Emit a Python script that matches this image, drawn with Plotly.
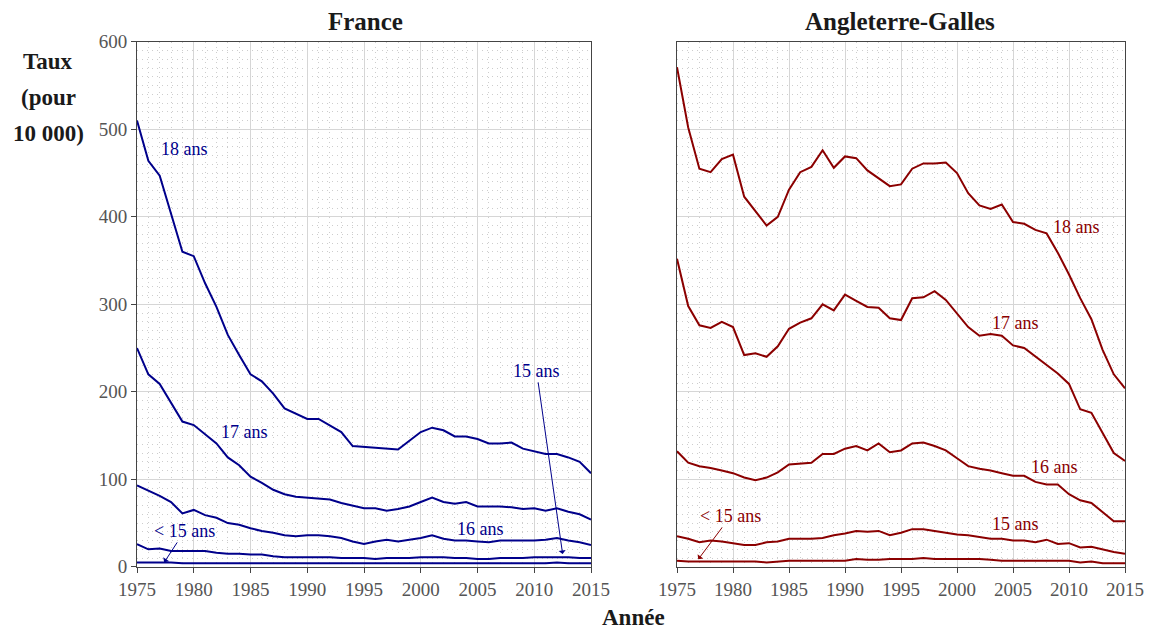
import plotly.graph_objects as go

years = list(range(1975, 2016))

# France (taux pour 10 000)
fr_18 = [510, 464, 447, 402, 360, 355, 324, 297, 265, 242, 220, 212, 198, 181, 175, 169, 169, 161, 154, 138,
         137, 136, 135, 134, 144, 154, 159, 156, 149, 149, 146, 141, 141, 142, 135, 132, 129, 129, 125, 120, 107]
fr_17 = [250, 220, 209, 187, 166, 162, 151, 141, 125, 116, 103, 96, 88, 83, 80, 79, 78, 77, 73, 70,
         67, 67, 64, 66, 69, 74, 79, 74, 72, 74, 69, 69, 69, 68, 66, 67, 64, 67, 63, 60, 54]
fr_16 = [93, 87, 81, 74, 61, 65, 59, 56, 50, 48, 44, 41, 39, 36, 35, 36, 36, 35, 33, 29,
         26, 29, 31, 29, 31, 33, 36, 32, 30, 30, 29, 28, 30, 30, 30, 30, 31, 33, 30, 28, 25]
fr_15 = [26, 20, 21, 18, 18, 18, 18, 16, 15, 15, 14, 14, 12, 11, 11, 11, 11, 11, 10, 10,
         10, 9, 10, 10, 10, 11, 11, 11, 10, 10, 9, 9, 10, 10, 10, 11, 11, 11, 11, 10, 10]
fr_lt15 = [5, 5, 5, 5, 4, 4, 4, 4, 4, 4, 4, 4, 4, 4, 4, 4, 4, 4, 4, 4,
           4, 4, 4, 4, 4, 4, 4, 4, 4, 4, 4, 4, 4, 4, 4, 4, 4, 5, 4, 4, 4]

# Angleterre-Galles
ew_18 = [571, 502, 455, 451, 466, 471, 423, 406, 390, 400, 431, 451, 457, 476, 456, 469, 467, 453, 444, 435,
         437, 455, 461, 461, 462, 450, 427, 413, 409, 414, 394, 392, 385, 381, 359, 334, 307, 283, 248, 220, 204]
ew_17 = [352, 298, 276, 273, 280, 274, 242, 244, 240, 252, 272, 279, 284, 300, 293, 311, 304, 297, 296, 284,
         282, 307, 308, 315, 305, 290, 274, 264, 266, 264, 253, 250, 240, 230, 221, 209, 180, 176, 153, 130, 121]
ew_16 = [132, 119, 115, 113, 110, 107, 102, 99, 102, 108, 117, 118, 119, 129, 129, 135, 138, 133, 141, 131,
         133, 141, 142, 138, 133, 124, 115, 112, 110, 107, 104, 104, 97, 94, 94, 83, 76, 73, 63, 52, 52]
ew_15 = [35, 32, 28, 30, 29, 27, 25, 25, 28, 29, 32, 32, 32, 33, 36, 38, 41, 40, 41, 36,
         39, 43, 43, 41, 39, 37, 36, 34, 32, 32, 30, 30, 28, 31, 26, 27, 22, 23, 20, 17, 15]
ew_lt15 = [7, 6, 6, 6, 6, 6, 6, 6, 5, 6, 7, 7, 7, 7, 7, 7, 9, 8, 8, 9,
           9, 9, 10, 9, 9, 9, 9, 9, 8, 7, 7, 7, 7, 7, 7, 7, 5, 6, 4, 4, 4]

x_ticks = [1975, 1980, 1985, 1990, 1995, 2000, 2005, 2010, 2015]
y_ticks = [0, 100, 200, 300, 400, 500, 600]

BLUE = "#00008B"
RED = "#8B0000"
FONT = "Liberation Serif"
W, H = 1153, 628
OFF = 8  # page body margin


def px(xp):
    return (xp - OFF) / W


def py(yp):
    return 1 - (yp - OFF) / H


fig = go.Figure()
for s in [fr_18, fr_17, fr_16, fr_15, fr_lt15]:
    fig.add_trace(go.Scatter(x=years, y=s, mode="lines", line=dict(color=BLUE, width=2),
                             xaxis="x", yaxis="y", showlegend=False, hoverinfo="skip"))
for s in [ew_18, ew_17, ew_16, ew_15, ew_lt15]:
    fig.add_trace(go.Scatter(x=years, y=s, mode="lines", line=dict(color=RED, width=2),
                             xaxis="x2", yaxis="y2", showlegend=False, hoverinfo="skip"))

MINOR = dict(showgrid=True, gridcolor="#cdcdcd", griddash="1px,4px", gridwidth=1)


def xax(domain, anchor):
    return dict(domain=domain, anchor=anchor, range=[1975, 2015], tickvals=x_ticks,
                showgrid=True, gridcolor="#d6d6d6", gridwidth=1,
                minor=dict(dtick=1, tick0=1975, **MINOR),
                showline=True, linecolor="#444", linewidth=1, mirror=True,
                ticks="outside", ticklen=5, tickcolor="#444",
                tickfont=dict(family=FONT, size=19, color="#555"), zeroline=False, automargin=False)


def yax(domain, anchor, labels):
    return dict(domain=domain, anchor=anchor, range=[0, 600], tickvals=y_ticks,
                showticklabels=labels,
                showgrid=True, gridcolor="#d6d6d6", gridwidth=1,
                minor=dict(dtick=10, tick0=0, **MINOR),
                showline=True, linecolor="#444", linewidth=1, mirror=True,
                ticks="outside" if labels else "", ticklen=5, tickcolor="#444",
                tickfont=dict(family=FONT, size=19, color="#555"), zeroline=False, automargin=False)


ydom = [py(566.8), py(41.8)]
fig.update_layout(
    template="none",
    width=W, height=H,
    margin=dict(l=0, r=0, t=0, b=0),
    paper_bgcolor="white", plot_bgcolor="white",
    font=dict(family=FONT),
    xaxis=xax([px(137), px(591)], "y"),
    yaxis=yax(ydom, "x", True),
    xaxis2=xax([px(677), px(1125)], "y2"),
    yaxis2=yax(ydom, "x2", False),
)

ann = []


def ptext(text, xp, yp, size):
    return dict(text=text, x=px(xp), y=py(yp), xref="paper", yref="paper", showarrow=False,
                font=dict(size=size, color="#1a1a1a", family=FONT), xanchor="center", yanchor="middle")


ann += [
    ptext("<b>France</b>", 365, 22, 25),
    ptext("<b>Angleterre-Galles</b>", 900, 22, 25),
    ptext("<b>Année</b>", 633, 617, 23),
    ptext("<b>Taux</b>", 48, 62, 23),
    ptext("<b>(pour</b>", 48, 98, 23),
    ptext("<b>10 000)</b>", 48, 133, 23),
]


def lab(text, x, y, xr, yr, color):
    return dict(text=text, x=x, y=y, xref=xr, yref=yr, showarrow=False,
                font=dict(size=18, color=color, family=FONT), xanchor="center", yanchor="middle")


ann += [
    lab("18 ans", 1979.2, 478, "x", "y", BLUE),
    lab("17 ans", 1984.5, 154, "x", "y", BLUE),
    lab("16 ans", 2005.3, 43, "x", "y", BLUE),
    lab("18 ans", 2010.7, 388, "x2", "y2", RED),
    lab("17 ans", 2005.2, 279, "x2", "y2", RED),
    lab("16 ans", 2008.7, 114, "x2", "y2", RED),
    lab("15 ans", 2005.2, 49, "x2", "y2", RED),
]


def arr(text, tx, ty, ax, ay, xr, yr, color):
    return dict(text=text, x=tx, y=ty, ax=ax, ay=ay, xref=xr, yref=yr, axref=xr, ayref=yr,
                showarrow=True, arrowhead=1, arrowsize=1.2, arrowwidth=1, arrowcolor=color,
                font=dict(size=18, color=color, family=FONT), standoff=0)


ann += [
    arr("15 ans", 2012.5, 14.6, 2010.2, 224, "x", "y", BLUE),
    arr("&lt; 15 ans", 1977.4, 5.1, 1979.2, 41, "x", "y", BLUE),
    arr("&lt; 15 ans", 1976.9, 8.6, 1979.8, 58, "x2", "y2", RED),
]

fig.update_layout(annotations=ann)
fig.write_html("out.html")
